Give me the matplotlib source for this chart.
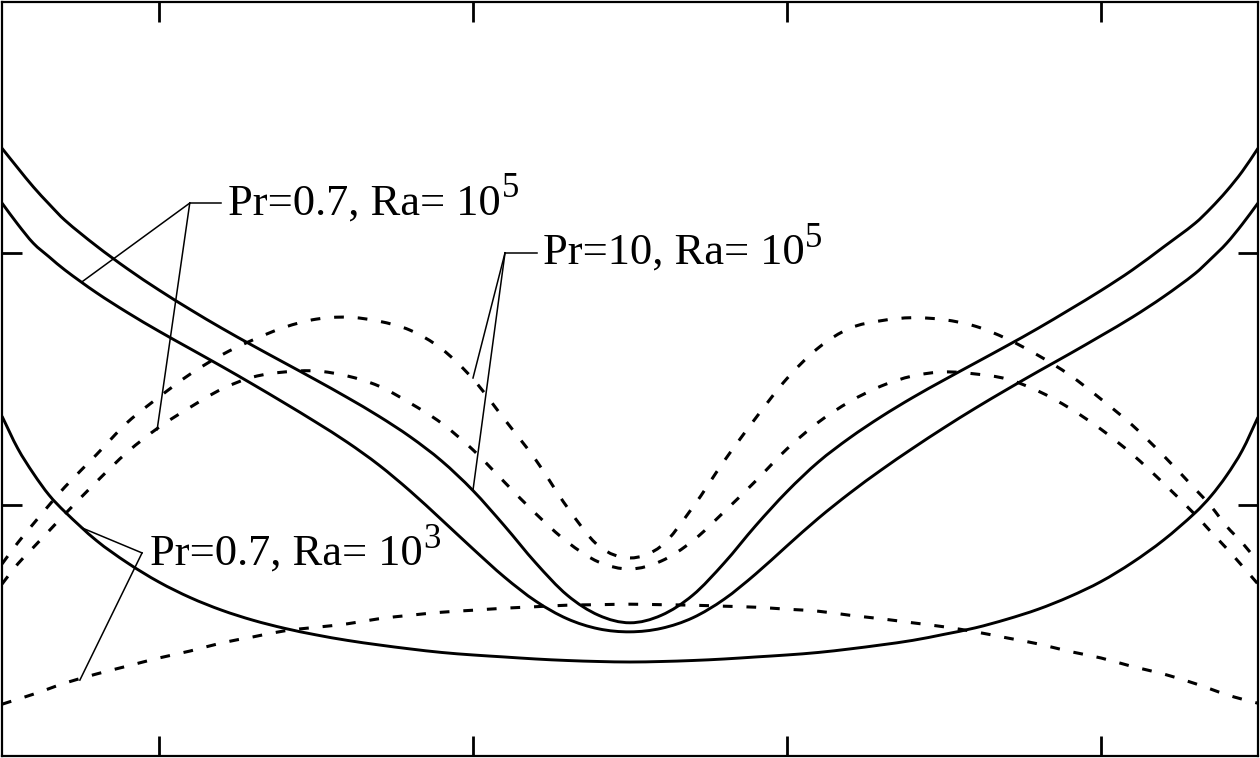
import matplotlib
matplotlib.use("Agg")
import matplotlib.pyplot as plt
from matplotlib.path import Path
from matplotlib.patches import PathPatch

plt.rcParams['font.family'] = ['Liberation Serif', 'DejaVu Serif']
plt.rcParams['lines.scale_dashes'] = False

# ---------------- data ----------------
x = [-1.0, -0.975, -0.95, -0.925, -0.9, -0.85, -0.8, -0.75, -0.7, -0.65, -0.6, -0.55, -0.5, -0.45, -0.4,
     -0.35, -0.3, -0.25, -0.2, -0.15, -0.1, -0.05, 0.0,
     0.05, 0.1, 0.15, 0.2, 0.25, 0.3, 0.35, 0.4, 0.45, 0.5, 0.55, 0.6, 0.65, 0.7, 0.75, 0.8, 0.85, 0.9,
     0.925, 0.95, 0.975, 1.0]

# Pr=10, Ra=1e5 (solid)
pr10_solid = [1.209, 1.170, 1.132, 1.098, 1.066, 1.015, 0.969, 0.927, 0.888, 0.851, 0.816, 0.782, 0.748, 0.713, 0.676,
              0.635, 0.587, 0.528, 0.458, 0.384, 0.320, 0.280, 0.265,
              0.280, 0.320, 0.384, 0.458, 0.526, 0.585, 0.633, 0.675, 0.713, 0.748, 0.782, 0.816, 0.851, 0.888,
              0.926, 0.967, 1.013, 1.060, 1.090, 1.124, 1.163, 1.209]
# Pr=0.7, Ra=1e5 (solid)
pr07_ra5_solid = [1.100, 1.058, 1.020, 0.993, 0.967, 0.922, 0.882, 0.845, 0.810, 0.775, 0.739, 0.702, 0.664, 0.624, 0.579,
                  0.527, 0.470, 0.412, 0.356, 0.308, 0.273, 0.253, 0.247,
                  0.254, 0.275, 0.312, 0.362, 0.418, 0.473, 0.523, 0.569, 0.612, 0.653, 0.692, 0.729, 0.765, 0.800,
                  0.836, 0.873, 0.914, 0.960, 0.989, 1.020, 1.058, 1.100]
# Pr=0.7, Ra=1e3 (solid)
pr07_ra3_solid = [0.676, 0.612, 0.562, 0.519, 0.486, 0.429, 0.384, 0.346, 0.315, 0.290, 0.270, 0.254, 0.241, 0.230, 0.221,
                  0.213, 0.206, 0.201, 0.197, 0.193, 0.190, 0.188, 0.187,
                  0.188, 0.190, 0.193, 0.197, 0.201, 0.206, 0.213, 0.221, 0.230, 0.242, 0.255, 0.272, 0.292, 0.317,
                  0.347, 0.385, 0.430, 0.484, 0.517, 0.558, 0.608, 0.674]
# Pr=10, Ra=1e5 (dashed)
pr10_dash = [0.382, 0.424, 0.462, 0.499, 0.535, 0.599, 0.664, 0.714, 0.760, 0.798, 0.828, 0.853, 0.869, 0.873, 0.865,
             0.847, 0.810, 0.750, 0.670, 0.589, 0.495, 0.418, 0.394,
             0.418, 0.495, 0.587, 0.672, 0.751, 0.812, 0.851, 0.866, 0.872, 0.868, 0.855, 0.830, 0.797, 0.758,
             0.710, 0.658, 0.597, 0.531, 0.497, 0.457, 0.424, 0.386]
# Pr=0.7, Ra=1e5 (dashed)
pr07_ra5_dash = [0.342, 0.382, 0.415, 0.448, 0.481, 0.545, 0.605, 0.654, 0.694, 0.730, 0.754, 0.764, 0.766, 0.756, 0.736,
                 0.702, 0.662, 0.609, 0.545, 0.482, 0.426, 0.386, 0.372,
                 0.388, 0.428, 0.486, 0.547, 0.611, 0.664, 0.705, 0.736, 0.756, 0.764, 0.760, 0.750, 0.726, 0.692,
                 0.650, 0.600, 0.542, 0.480, 0.446, 0.413, 0.378, 0.342]
# Pr=0.7, Ra=1e3 (dashed)
pr07_ra3_dash = [0.103, 0.113, 0.123, 0.134, 0.145, 0.163, 0.179, 0.195, 0.209, 0.225, 0.237, 0.249, 0.256, 0.263, 0.273,
                 0.280, 0.286, 0.290, 0.294, 0.297, 0.300, 0.301, 0.302,
                 0.301, 0.300, 0.298, 0.296, 0.292, 0.288, 0.280, 0.273, 0.265, 0.257, 0.247, 0.235, 0.223, 0.208,
                 0.195, 0.178, 0.163, 0.144, 0.133, 0.122, 0.113, 0.105]

label_base = ["Pr=0.7, Ra= 10", "Pr=10, Ra= 10", "Pr=0.7, Ra= 10"]
label_sup = ["5", "5", "3"]
# leader corner, end of horizontal stub, text position, leader targets
label_corner = [(-0.701, 1.100), (-0.199, 1.001), (-0.777, 0.404)]
label_hend = [-0.651, -0.148, -0.777]
label_text = [(-0.640, 1.078), (-0.139, 0.979), (-0.764, 0.380)]
label_targets = [[(-0.873, 0.943), (-0.753, 0.649)],
                 [(-0.250, 0.529), (-0.250, 0.752)],
                 [(-0.873, 0.454), (-0.876, 0.151)]]

xticks = [-0.75, -0.25, 0.25, 0.75]
yticks = [0.5, 1.0]


def smooth_path(xs, ys):
    """Cubic Hermite (Bezier) path through the data points, drawn by matplotlib."""
    n = len(xs)
    slopes = []
    for i in range(n):
        if i == 0:
            s = (ys[1] - ys[0]) / (xs[1] - xs[0])
        elif i == n - 1:
            s = (ys[-1] - ys[-2]) / (xs[-1] - xs[-2])
        else:
            s = (ys[i + 1] - ys[i - 1]) / (xs[i + 1] - xs[i - 1])
        slopes.append(s)
    verts = [(xs[0], ys[0])]
    codes = [Path.MOVETO]
    for i in range(n - 1):
        h = xs[i + 1] - xs[i]
        verts += [(xs[i] + h / 3, ys[i] + slopes[i] * h / 3),
                  (xs[i + 1] - h / 3, ys[i + 1] - slopes[i + 1] * h / 3),
                  (xs[i + 1], ys[i + 1])]
        codes += [Path.CURVE4] * 3
    return Path(verts, codes)


# ---------------- figure ----------------
fig = plt.figure(figsize=(12.6, 7.58), dpi=100)
ax = fig.add_axes([2/1260, 2/758, 1256/1260, 754/758])

for ys in (pr10_solid, pr07_ra5_solid, pr07_ra3_solid):
    ax.add_patch(PathPatch(smooth_path(x, ys), facecolor='none', edgecolor='black',
                           lw=2.1, capstyle='butt'))
for ys in (pr10_dash, pr07_ra5_dash, pr07_ra3_dash):
    ax.add_patch(PathPatch(smooth_path(x, ys), facecolor='none', edgecolor='black',
                           lw=2.2, linestyle=(0, (7, 10)), capstyle='butt'))

for base, sup, corner, hend, tpos, targets in zip(label_base, label_sup, label_corner,
                                                   label_hend, label_text, label_targets):
    cx, cy = corner
    if hend != cx:
        ax.plot([cx, hend], [cy, cy], color='black', lw=1.1)
    for tx, ty in targets:
        ax.plot([cx, tx], [cy, ty], color='black', lw=1.1)
    t = ax.text(tpos[0], tpos[1], base, fontsize=32, ha='left', va='baseline', color='black')
    ax.annotate(sup, xy=(1, 0), xycoords=t, xytext=(0.5, 19), textcoords='offset points',
                fontsize=25, ha='left', va='baseline', color='black')

ax.set_xlim(-1, 1)
ax.set_ylim(0, 1.5)
ax.set_xticks(xticks)
ax.set_yticks(yticks)
ax.tick_params(direction='in', length=14.5, width=2.0, top=True, right=True,
               labelbottom=False, labelleft=False)
for s in ax.spines.values():
    s.set_linewidth(1.6)

fig.savefig("out.png", dpi=100)
